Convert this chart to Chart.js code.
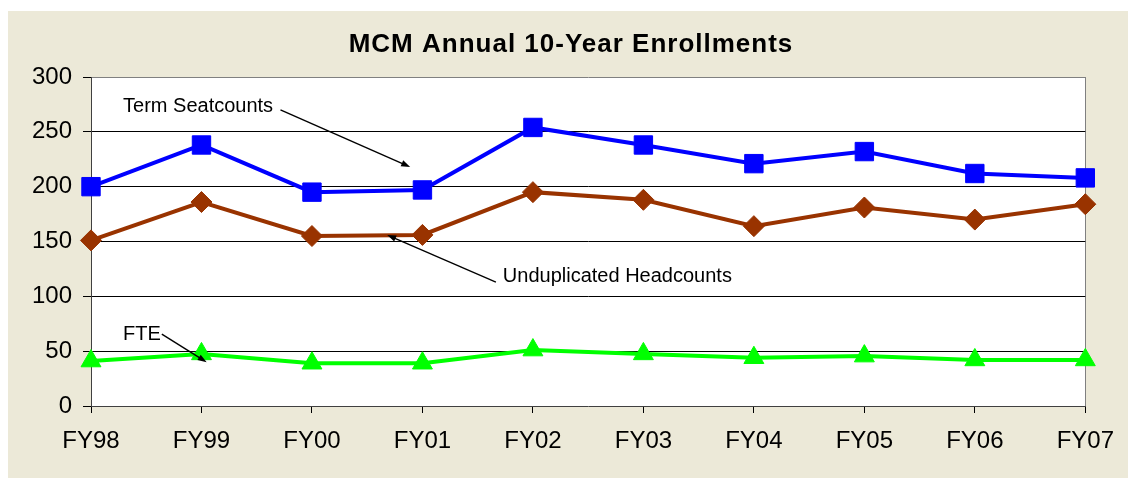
<!DOCTYPE html>
<html>
<head>
<meta charset="utf-8">
<title>MCM Annual 10-Year Enrollments</title>
<script src="https://cdn.jsdelivr.net/npm/chart.js@4.4.1/dist/chart.umd.min.js"></script>
<style>
  html, body { margin: 0; padding: 0; background: #fff; }
  canvas { display: block; }
</style>
</head>
<body>
<canvas id="cEnroll" width="1128" height="479"></canvas>
<script>
// ---- data ----
const years = ['FY98', 'FY99', 'FY00', 'FY01', 'FY02', 'FY03', 'FY04', 'FY05', 'FY06', 'FY07'];
const seatcounts = [200, 238, 195, 197, 254, 238, 221, 232, 212, 208];
const headcounts = [151, 186, 155, 156, 195, 188, 164, 181, 170, 184];
const fte = [41, 47.5, 39, 39, 51, 47.5, 44, 45.5, 42, 42];
const yMin = 0, yMax = 300, yStep = 50;

// callouts, anchored in data space (category index, value)
const callouts = [
  { text: 'Term Seatcounts',         at: [0.29, 273.5], from: [1.715, 270], to: [2.889, 218] },
  { text: 'Unduplicated Headcounts', at: [3.728, 118.5], from: [3.665, 113], to: [2.681, 156] },
  { text: 'FTE',                     at: [0.29, 65.5],  from: [0.641, 65.5], to: [1.047, 40] }
];

const FONT = '"Liberation Sans", Arial, sans-serif';
const BEIGE = '#ECE9D8';

// background frame + white plot area
const framePlugin = {
  id: 'frame',
  beforeDraw(chart) {
    const { ctx, chartArea: a } = chart;
    ctx.save();
    ctx.fillStyle = '#fff';
    ctx.fillRect(0, 0, chart.width, chart.height);
    ctx.fillStyle = BEIGE;
    ctx.fillRect(8, 11, chart.width - 8, chart.height - 12);
    ctx.fillStyle = '#fff';
    ctx.fillRect(a.left, a.top, a.right - a.left, a.bottom - a.top);
    ctx.restore();
  }
};

// chart title drawn by hand so the plot area can sit where it should
const titlePlugin = {
  id: 'mcmTitle',
  afterDraw(chart) {
    const { ctx } = chart;
    ctx.save();
    ctx.font = 'bold 26px ' + FONT;
    ctx.fillStyle = '#000';
    ctx.textAlign = 'center';
    ctx.textBaseline = 'middle';
    if ('letterSpacing' in ctx) ctx.letterSpacing = '1px';
    ctx.fillText('MCM Annual 10-Year Enrollments', 571, 45);
    ctx.restore();
  }
};

function arrow(ctx, x1, y1, x2, y2) {
  const ang = Math.atan2(y2 - y1, x2 - x1);
  const len = 9, half = 3.2;
  ctx.beginPath();
  ctx.moveTo(x1, y1);
  ctx.lineTo(x2 - Math.cos(ang) * len * 0.8, y2 - Math.sin(ang) * len * 0.8);
  ctx.stroke();
  ctx.beginPath();
  ctx.moveTo(x2, y2);
  ctx.lineTo(x2 - Math.cos(ang) * len - Math.sin(ang) * half, y2 - Math.sin(ang) * len + Math.cos(ang) * half);
  ctx.lineTo(x2 - Math.cos(ang) * len + Math.sin(ang) * half, y2 - Math.sin(ang) * len - Math.cos(ang) * half);
  ctx.closePath();
  ctx.fill();
}

const calloutPlugin = {
  id: 'callouts',
  afterDatasetsDraw(chart) {
    const { ctx, scales: { x, y } } = chart;
    const px = i => x.getPixelForValue(0) + (x.getPixelForValue(1) - x.getPixelForValue(0)) * i;
    ctx.save();
    ctx.fillStyle = '#000';
    ctx.strokeStyle = '#000';
    ctx.lineWidth = 1.4;
    ctx.font = '20px ' + FONT;
    ctx.textAlign = 'left';
    ctx.textBaseline = 'middle';
    callouts.forEach(c => {
      ctx.fillText(c.text, px(c.at[0]), y.getPixelForValue(c.at[1]));
      arrow(ctx, px(c.from[0]), y.getPixelForValue(c.from[1]), px(c.to[0]), y.getPixelForValue(c.to[1]));
    });
    ctx.restore();
  }
};

new Chart(document.getElementById('cEnroll').getContext('2d'), {
  type: 'line',
  data: {
    labels: years,
    datasets: [
      {
        label: 'Term Seatcounts', data: seatcounts,
        borderColor: '#0000FF', backgroundColor: '#0000FF', borderWidth: 4,
        pointStyle: 'rect', pointRadius: 13, pointBorderWidth: 1,
        pointBackgroundColor: '#0000FF', pointBorderColor: '#0000FF',
        tension: 0, clip: false
      },
      {
        label: 'Unduplicated Headcounts', data: headcounts,
        borderColor: '#993300', backgroundColor: '#993300', borderWidth: 4,
        pointStyle: 'rectRot', pointRadius: 10.5, pointBorderWidth: 1,
        pointBackgroundColor: '#993300', pointBorderColor: '#993300',
        tension: 0, clip: false
      },
      {
        label: 'FTE', data: fte,
        borderColor: '#00FF00', backgroundColor: '#00FF00', borderWidth: 4,
        pointStyle: 'triangle', pointRadius: 11.5, pointBorderWidth: 1,
        pointBackgroundColor: '#00FF00', pointBorderColor: '#00FF00',
        tension: 0, clip: false
      }
    ]
  },
  options: {
    responsive: false, animation: false,
    layout: { padding: { top: 77, right: 37, left: 0, bottom: 0 } },
    plugins: {
      legend: { display: false },
      title: { display: false },
      tooltip: { enabled: false }
    },
    scales: {
      x: {
        offset: false,
        afterFit: s => { s.height = 73; },
        grid: {
          color: c => (c.index === years.length - 1 ? '#808080' : 'rgba(0,0,0,0)'),
          tickColor: '#000', tickLength: 7, lineWidth: 1
        },
        border: { color: '#404040', width: 1 },
        ticks: { color: '#000', font: { family: FONT, size: 24 }, padding: 14, maxRotation: 0, autoSkip: false }
      },
      y: {
        min: yMin, max: yMax,
        afterFit: s => { s.width = 91; },
        grid: {
          color: c => (c.tick.value === yMax ? '#808080' : c.tick.value === yMin ? 'rgba(0,0,0,0)' : '#000'),
          tickColor: '#000', tickLength: 8, lineWidth: 1
        },
        border: { color: '#404040', width: 1 },
        ticks: { stepSize: yStep, color: '#000', font: { family: FONT, size: 24 }, padding: 11 }
      }
    }
  },
  plugins: [framePlugin, calloutPlugin, titlePlugin]
});
</script>
</body>
</html>
